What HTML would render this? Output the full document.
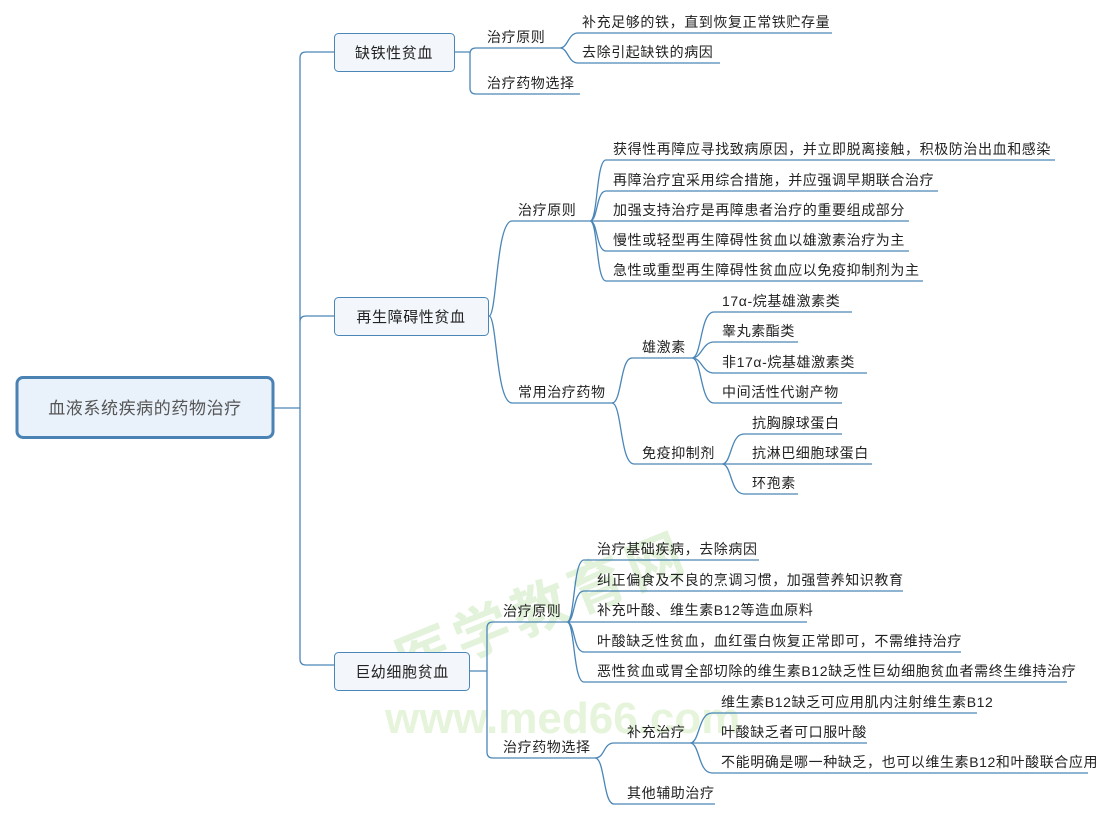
<!DOCTYPE html>
<html><head><meta charset="utf-8"><style>
html,body{margin:0;padding:0;background:#fff;}
svg{display:block;}
text{font-family:"Liberation Sans","Noto Sans CJK SC",sans-serif;font-size:14px;fill:#222;letter-spacing:0.6px;}
.b{font-size:15px;}
.l{fill:none;stroke:#4a86b8;stroke-width:1.3;}
</style></head><body>
<svg width="1109" height="815" viewBox="0 0 1109 815" xmlns="http://www.w3.org/2000/svg">
<!-- watermark -->
<text x="380" y="650" transform="rotate(-22 480 600)" style="font-size:56px;font-weight:bold;fill:#a6d98a;opacity:0.3;letter-spacing:6px">医学教育网</text>
<text x="385" y="733" style="font-family:'Liberation Sans',sans-serif;font-size:44px;font-weight:bold;fill:#b8e29a;opacity:0.35;letter-spacing:0">www.med66.com</text>

<!-- root -->
<rect x="17" y="377.5" width="256" height="60" rx="6" fill="#e9f1fa" stroke="#4a82b4" stroke-width="3"/>
<text x="145" y="414" text-anchor="middle" style="font-size:17px;fill:#555">血液系统疾病的药物治疗</text>
<path class="l" d="M273 408 H300 M306 52 Q300 52 300 58 V659 Q300 665 306 665 H334 M306 52 H334 M300 322 Q300 316 306 316 H334"/>

<!-- node 1 -->
<rect x="334.5" y="33.5" width="120" height="38" rx="4" fill="#f3f7fc" stroke="#4a86b8"/>
<text class="b" x="394" y="58" text-anchor="middle">缺铁性贫血</text>
<path class="l" d="M455 52 H470 M476 48 Q470 48 470 54 V88 Q470 94 476 94 M476 48 H560 M476 94 H580"/>
<text x="487" y="42">治疗原则</text>
<text x="487" y="88">治疗药物选择</text>
<path class="l" d="M560 48 C568 48 568 33 578 33 H832 M560 48 C568 48 568 63 578 63 H720"/>
<text x="582" y="27">补充足够的铁，直到恢复正常铁贮存量</text>
<text x="582" y="57">去除引起缺铁的病因</text>

<!-- node 2 -->
<rect x="334.5" y="297.5" width="154" height="38" rx="4" fill="#f3f7fc" stroke="#4a86b8"/>
<text class="b" x="411" y="322" text-anchor="middle">再生障碍性贫血</text>
<path class="l" d="M489 316 C497 316 496 221 512 221 H590 M489 316 C497 316 496 403 512 403 H613"/>
<text x="518" y="215">治疗原则</text>
<text x="518" y="397">常用治疗药物</text>
<path class="l" d="M590 221 C598 221 596 160 606 160 H1055 M590 221 C598 221 596 191 606 191 H938 M590 221 H909 M590 221 C598 221 596 251 606 251 H909 M590 221 C598 221 596 281 606 281 H923"/>
<text x="613" y="154">获得性再障应寻找致病原因，并立即脱离接触，积极防治出血和感染</text>
<text x="613" y="185">再障治疗宜采用综合措施，并应强调早期联合治疗</text>
<text x="613" y="215">加强支持治疗是再障患者治疗的重要组成部分</text>
<text x="613" y="245">慢性或轻型再生障碍性贫血以雄激素治疗为主</text>
<text x="613" y="275">急性或重型再生障碍性贫血应以免疫抑制剂为主</text>
<path class="l" d="M612 403 C622 403 620 358 632 358 H692 M612 403 C622 403 620 464 634 464 H722"/>
<text x="642" y="352">雄激素</text>
<text x="642" y="458">免疫抑制剂</text>
<path class="l" d="M692 358 C702 358 700 312 714 312 H852 M692 358 C702 358 702 342 714 342 H798 M692 358 C702 358 702 373 714 373 H867 M692 358 C702 358 700 403 714 403 H842"/>
<text x="722" y="306">17α-烷基雄激素类</text>
<text x="722" y="336">睾丸素酯类</text>
<text x="722" y="367">非17α-烷基雄激素类</text>
<text x="722" y="397">中间活性代谢产物</text>
<path class="l" d="M722 464 C732 464 730 434 744 434 H842 M722 464 H872 M722 464 C732 464 730 494 744 494 H798"/>
<text x="752" y="428">抗胸腺球蛋白</text>
<text x="752" y="458">抗淋巴细胞球蛋白</text>
<text x="752" y="488">环孢素</text>

<!-- node 3 -->
<rect x="334.5" y="652.5" width="135" height="38" rx="4" fill="#f3f7fc" stroke="#4a86b8"/>
<text class="b" x="402" y="677" text-anchor="middle">巨幼细胞贫血</text>
<path class="l" d="M470 671 H487 M493 622 Q487 622 487 628 V752 Q487 758 493 758 M493 622 H567 M493 758 H595"/>
<text x="503" y="616">治疗原则</text>
<text x="503" y="752">治疗药物选择</text>
<path class="l" d="M567 622 C575 622 573 560 584 560 H759 M567 622 C575 622 573 591 584 591 H903 M567 622 H807 M567 622 C575 622 573 652 584 652 H961 M567 622 C575 622 573 682 584 682 H1067"/>
<text x="597" y="554">治疗基础疾病，去除病因</text>
<text x="597" y="585">纠正偏食及不良的烹调习惯，加强营养知识教育</text>
<text x="597" y="615">补充叶酸、维生素B12等造血原料</text>
<text x="597" y="646">叶酸缺乏性贫血，血红蛋白恢复正常即可，不需维持治疗</text>
<text x="597" y="676">恶性贫血或胃全部切除的维生素B12缺乏性巨幼细胞贫血者需终生维持治疗</text>
<path class="l" d="M595 758 C605 758 603 743 614 743 H690 M595 758 C605 758 603 804 614 804 H715"/>
<text x="627" y="737">补充治疗</text>
<text x="627" y="798">其他辅助治疗</text>
<path class="l" d="M690 743 C700 743 698 713 712 713 H977 M690 743 H867 M690 743 C700 743 698 773 712 773 H1088"/>
<text x="721" y="707">维生素B12缺乏可应用肌内注射维生素B12</text>
<text x="721" y="737">叶酸缺乏者可口服叶酸</text>
<text x="721" y="767">不能明确是哪一种缺乏，也可以维生素B12和叶酸联合应用</text>
</svg>
</body></html>
